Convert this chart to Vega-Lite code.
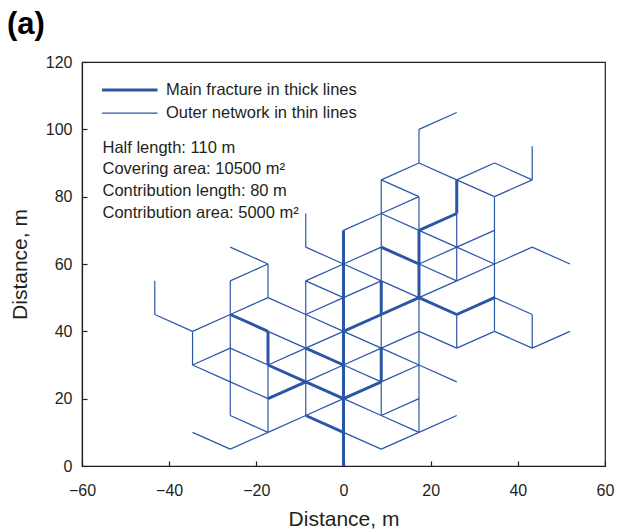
{
  "$schema": "https://vega.github.io/schema/vega-lite/v6.json",
  "autosize": {"type": "none"},
  "width": 523,
  "height": 404,
  "padding": {"left": 82, "top": 62, "right": 18, "bottom": 66},
  "title": {"text": "(a)", "anchor": "start", "frame": "group", "dx": -75, "dy": 36, "offset": 25, "baseline": "alphabetic", "fontSize": 31, "fontWeight": "bold", "font": "Liberation Sans", "color": "#000000"},
  "config": {
    "view": {"stroke": "#231f20", "strokeWidth": 1.2},
    "font": "Liberation Sans",
    "axis": {"grid": false, "labelFlush": false, "labelFont": "Liberation Sans", "labelFontSize": 16, "labelColor": "#231f20", "titleFont": "Liberation Sans", "titleFontSize": 21, "titleFontWeight": "normal", "titleColor": "#231f20", "tickColor": "#231f20", "domainColor": "#231f20", "tickSize": -5, "tickWidth": 1.2, "domainWidth": 1.2}
  },
  "layer": [
    {
      "data": {"values": [
        {"x": -43.3, "y": 45, "x2": -43.3, "y2": 55, "type": "Outer network in thin lines"},
        {"x": -43.3, "y": 45, "x2": -34.64, "y2": 40, "type": "Outer network in thin lines"},
        {"x": -34.64, "y": 30, "x2": -34.64, "y2": 40, "type": "Outer network in thin lines"},
        {"x": -34.64, "y": 40, "x2": -25.98, "y2": 45, "type": "Outer network in thin lines"},
        {"x": -34.64, "y": 30, "x2": -25.98, "y2": 35, "type": "Outer network in thin lines"},
        {"x": -34.64, "y": 30, "x2": -25.98, "y2": 25, "type": "Outer network in thin lines"},
        {"x": -34.64, "y": 10, "x2": -25.98, "y2": 5, "type": "Outer network in thin lines"},
        {"x": -25.98, "y": 15, "x2": -25.98, "y2": 55, "type": "Outer network in thin lines"},
        {"x": -25.98, "y": 65, "x2": -17.32, "y2": 60, "type": "Outer network in thin lines"},
        {"x": -25.98, "y": 55, "x2": -17.32, "y2": 60, "type": "Outer network in thin lines"},
        {"x": -25.98, "y": 45, "x2": -17.32, "y2": 50, "type": "Outer network in thin lines"},
        {"x": -25.98, "y": 45, "x2": -17.32, "y2": 40, "type": "Main fracture in thick lines"},
        {"x": -25.98, "y": 35, "x2": -17.32, "y2": 30, "type": "Outer network in thin lines"},
        {"x": -25.98, "y": 25, "x2": -17.32, "y2": 20, "type": "Outer network in thin lines"},
        {"x": -25.98, "y": 15, "x2": -17.32, "y2": 10, "type": "Outer network in thin lines"},
        {"x": -25.98, "y": 5, "x2": -17.32, "y2": 10, "type": "Outer network in thin lines"},
        {"x": -17.32, "y": 50, "x2": -17.32, "y2": 60, "type": "Outer network in thin lines"},
        {"x": -17.32, "y": 30, "x2": -17.32, "y2": 40, "type": "Main fracture in thick lines"},
        {"x": -17.32, "y": 10, "x2": -17.32, "y2": 30, "type": "Outer network in thin lines"},
        {"x": -17.32, "y": 50, "x2": -8.66, "y2": 45, "type": "Outer network in thin lines"},
        {"x": -17.32, "y": 40, "x2": -8.66, "y2": 35, "type": "Outer network in thin lines"},
        {"x": -17.32, "y": 30, "x2": -8.66, "y2": 35, "type": "Outer network in thin lines"},
        {"x": -17.32, "y": 30, "x2": -8.66, "y2": 25, "type": "Main fracture in thick lines"},
        {"x": -17.32, "y": 20, "x2": -8.66, "y2": 25, "type": "Main fracture in thick lines"},
        {"x": -17.32, "y": 10, "x2": -8.66, "y2": 15, "type": "Outer network in thin lines"},
        {"x": -8.66, "y": 65, "x2": -8.66, "y2": 75, "type": "Outer network in thin lines"},
        {"x": -8.66, "y": 15, "x2": -8.66, "y2": 55, "type": "Outer network in thin lines"},
        {"x": -8.66, "y": 65, "x2": 0, "y2": 60, "type": "Outer network in thin lines"},
        {"x": -8.66, "y": 55, "x2": 0, "y2": 60, "type": "Outer network in thin lines"},
        {"x": -8.66, "y": 55, "x2": 0, "y2": 50, "type": "Outer network in thin lines"},
        {"x": -8.66, "y": 45, "x2": 0, "y2": 50, "type": "Outer network in thin lines"},
        {"x": -8.66, "y": 45, "x2": 0, "y2": 40, "type": "Outer network in thin lines"},
        {"x": -8.66, "y": 35, "x2": 0, "y2": 40, "type": "Outer network in thin lines"},
        {"x": -8.66, "y": 35, "x2": 0, "y2": 30, "type": "Main fracture in thick lines"},
        {"x": -8.66, "y": 25, "x2": 0, "y2": 30, "type": "Outer network in thin lines"},
        {"x": -8.66, "y": 25, "x2": 0, "y2": 20, "type": "Main fracture in thick lines"},
        {"x": -8.66, "y": 15, "x2": 0, "y2": 20, "type": "Outer network in thin lines"},
        {"x": -8.66, "y": 15, "x2": 0, "y2": 10, "type": "Main fracture in thick lines"},
        {"x": 0, "y": 0, "x2": 0, "y2": 70, "type": "Main fracture in thick lines"},
        {"x": 0, "y": 70, "x2": 8.66, "y2": 75, "type": "Outer network in thin lines"},
        {"x": 0, "y": 60, "x2": 8.66, "y2": 65, "type": "Outer network in thin lines"},
        {"x": 0, "y": 60, "x2": 8.66, "y2": 55, "type": "Outer network in thin lines"},
        {"x": 0, "y": 50, "x2": 8.66, "y2": 55, "type": "Outer network in thin lines"},
        {"x": 0, "y": 40, "x2": 8.66, "y2": 45, "type": "Main fracture in thick lines"},
        {"x": 0, "y": 40, "x2": 8.66, "y2": 35, "type": "Outer network in thin lines"},
        {"x": 0, "y": 30, "x2": 8.66, "y2": 35, "type": "Outer network in thin lines"},
        {"x": 0, "y": 30, "x2": 8.66, "y2": 25, "type": "Outer network in thin lines"},
        {"x": 0, "y": 20, "x2": 8.66, "y2": 25, "type": "Main fracture in thick lines"},
        {"x": 0, "y": 20, "x2": 8.66, "y2": 15, "type": "Outer network in thin lines"},
        {"x": 0, "y": 10, "x2": 8.66, "y2": 5, "type": "Outer network in thin lines"},
        {"x": 8.66, "y": 65, "x2": 8.66, "y2": 85, "type": "Outer network in thin lines"},
        {"x": 8.66, "y": 55, "x2": 8.66, "y2": 65, "type": "Outer network in thin lines"},
        {"x": 8.66, "y": 45, "x2": 8.66, "y2": 55, "type": "Main fracture in thick lines"},
        {"x": 8.66, "y": 35, "x2": 8.66, "y2": 45, "type": "Outer network in thin lines"},
        {"x": 8.66, "y": 25, "x2": 8.66, "y2": 35, "type": "Main fracture in thick lines"},
        {"x": 8.66, "y": 15, "x2": 8.66, "y2": 25, "type": "Outer network in thin lines"},
        {"x": 8.66, "y": 85, "x2": 17.32, "y2": 90, "type": "Outer network in thin lines"},
        {"x": 8.66, "y": 85, "x2": 17.32, "y2": 80, "type": "Outer network in thin lines"},
        {"x": 8.66, "y": 75, "x2": 17.32, "y2": 80, "type": "Outer network in thin lines"},
        {"x": 8.66, "y": 75, "x2": 17.32, "y2": 70, "type": "Outer network in thin lines"},
        {"x": 8.66, "y": 65, "x2": 17.32, "y2": 60, "type": "Main fracture in thick lines"},
        {"x": 8.66, "y": 55, "x2": 17.32, "y2": 50, "type": "Outer network in thin lines"},
        {"x": 8.66, "y": 45, "x2": 17.32, "y2": 50, "type": "Main fracture in thick lines"},
        {"x": 8.66, "y": 35, "x2": 17.32, "y2": 40, "type": "Outer network in thin lines"},
        {"x": 8.66, "y": 35, "x2": 17.32, "y2": 30, "type": "Outer network in thin lines"},
        {"x": 8.66, "y": 25, "x2": 17.32, "y2": 30, "type": "Outer network in thin lines"},
        {"x": 8.66, "y": 15, "x2": 17.32, "y2": 20, "type": "Outer network in thin lines"},
        {"x": 8.66, "y": 15, "x2": 17.32, "y2": 10, "type": "Outer network in thin lines"},
        {"x": 8.66, "y": 5, "x2": 17.32, "y2": 10, "type": "Outer network in thin lines"},
        {"x": 17.32, "y": 90, "x2": 17.32, "y2": 100, "type": "Outer network in thin lines"},
        {"x": 17.32, "y": 70, "x2": 17.32, "y2": 80, "type": "Outer network in thin lines"},
        {"x": 17.32, "y": 50, "x2": 17.32, "y2": 70, "type": "Main fracture in thick lines"},
        {"x": 17.32, "y": 10, "x2": 17.32, "y2": 50, "type": "Outer network in thin lines"},
        {"x": 17.32, "y": 100, "x2": 25.98, "y2": 105, "type": "Outer network in thin lines"},
        {"x": 17.32, "y": 90, "x2": 25.98, "y2": 85, "type": "Outer network in thin lines"},
        {"x": 17.32, "y": 70, "x2": 25.98, "y2": 75, "type": "Main fracture in thick lines"},
        {"x": 17.32, "y": 70, "x2": 25.98, "y2": 65, "type": "Outer network in thin lines"},
        {"x": 17.32, "y": 60, "x2": 25.98, "y2": 65, "type": "Outer network in thin lines"},
        {"x": 17.32, "y": 60, "x2": 25.98, "y2": 55, "type": "Outer network in thin lines"},
        {"x": 17.32, "y": 50, "x2": 25.98, "y2": 55, "type": "Outer network in thin lines"},
        {"x": 17.32, "y": 50, "x2": 25.98, "y2": 45, "type": "Main fracture in thick lines"},
        {"x": 17.32, "y": 40, "x2": 25.98, "y2": 35, "type": "Outer network in thin lines"},
        {"x": 17.32, "y": 30, "x2": 25.98, "y2": 25, "type": "Outer network in thin lines"},
        {"x": 17.32, "y": 10, "x2": 25.98, "y2": 15, "type": "Outer network in thin lines"},
        {"x": 25.98, "y": 75, "x2": 25.98, "y2": 85, "type": "Main fracture in thick lines"},
        {"x": 25.98, "y": 55, "x2": 25.98, "y2": 75, "type": "Outer network in thin lines"},
        {"x": 25.98, "y": 35, "x2": 25.98, "y2": 45, "type": "Outer network in thin lines"},
        {"x": 25.98, "y": 85, "x2": 34.64, "y2": 90, "type": "Outer network in thin lines"},
        {"x": 25.98, "y": 85, "x2": 34.64, "y2": 80, "type": "Outer network in thin lines"},
        {"x": 25.98, "y": 65, "x2": 34.64, "y2": 70, "type": "Outer network in thin lines"},
        {"x": 25.98, "y": 65, "x2": 34.64, "y2": 60, "type": "Outer network in thin lines"},
        {"x": 25.98, "y": 55, "x2": 34.64, "y2": 60, "type": "Outer network in thin lines"},
        {"x": 25.98, "y": 45, "x2": 34.64, "y2": 50, "type": "Main fracture in thick lines"},
        {"x": 25.98, "y": 35, "x2": 34.64, "y2": 40, "type": "Outer network in thin lines"},
        {"x": 34.64, "y": 40, "x2": 34.64, "y2": 80, "type": "Outer network in thin lines"},
        {"x": 34.64, "y": 90, "x2": 43.3, "y2": 85, "type": "Outer network in thin lines"},
        {"x": 34.64, "y": 80, "x2": 43.3, "y2": 85, "type": "Outer network in thin lines"},
        {"x": 34.64, "y": 60, "x2": 43.3, "y2": 65, "type": "Outer network in thin lines"},
        {"x": 34.64, "y": 50, "x2": 43.3, "y2": 45, "type": "Outer network in thin lines"},
        {"x": 34.64, "y": 40, "x2": 43.3, "y2": 35, "type": "Outer network in thin lines"},
        {"x": 43.3, "y": 85, "x2": 43.3, "y2": 95, "type": "Outer network in thin lines"},
        {"x": 43.3, "y": 35, "x2": 43.3, "y2": 45, "type": "Outer network in thin lines"},
        {"x": 43.3, "y": 65, "x2": 51.96, "y2": 60, "type": "Outer network in thin lines"},
        {"x": 43.3, "y": 35, "x2": 51.96, "y2": 40, "type": "Outer network in thin lines"}
      ]},
      "mark": {"type": "rule", "color": "#2a56a6", "strokeCap": "butt"},
      "encoding": {
        "x": {"field": "x", "type": "quantitative", "scale": {"domain": [-60, 60], "nice": false}, "axis": {"values": [-60, -40, -20, 0, 20, 40, 60], "title": "Distance, m", "labelPadding": 21, "titlePadding": 10, "labelExpr": "replace(datum.label, '-', '–')"}},
        "y": {"field": "y", "type": "quantitative", "scale": {"domain": [0, 120], "nice": false}, "axis": {"values": [0, 20, 40, 60, 80, 100, 120], "title": "Distance, m", "labelPadding": 15, "titlePadding": 15}},
        "x2": {"field": "x2"},
        "y2": {"field": "y2"},
        "strokeWidth": {"field": "type", "type": "ordinal", "scale": {"domain": ["Main fracture in thick lines", "Outer network in thin lines"], "range": [3, 1.2]}, "legend": {"title": null, "orient": "none", "legendX": 39.5, "legendY": 19.75, "padding": 0, "rowPadding": 6.2, "symbolType": "M-5.56,0H5.56", "symbolSize": 100, "symbolStrokeColor": "#2a56a6", "labelFontSize": 16.5, "labelFont": "Liberation Sans", "labelColor": "#231f20", "labelOffset": 28, "labelLimit": 0}}
      }
    },
    {
      "data": {"values": [
        {"label": "Half length: 110 m", "lx": -55.3, "ly": 93.1},
        {"label": "Covering area: 10500 m²", "lx": -55.3, "ly": 86.7},
        {"label": "Contribution length: 80 m", "lx": -55.3, "ly": 80.2},
        {"label": "Contribution area: 5000 m²", "lx": -55.3, "ly": 73.8}
      ]},
      "mark": {"type": "text", "align": "left", "baseline": "alphabetic", "fontSize": 16.5, "font": "Liberation Sans", "color": "#231f20"},
      "encoding": {
        "x": {"field": "lx", "type": "quantitative"},
        "y": {"field": "ly", "type": "quantitative"},
        "text": {"field": "label"}
      }
    }
  ]
}
